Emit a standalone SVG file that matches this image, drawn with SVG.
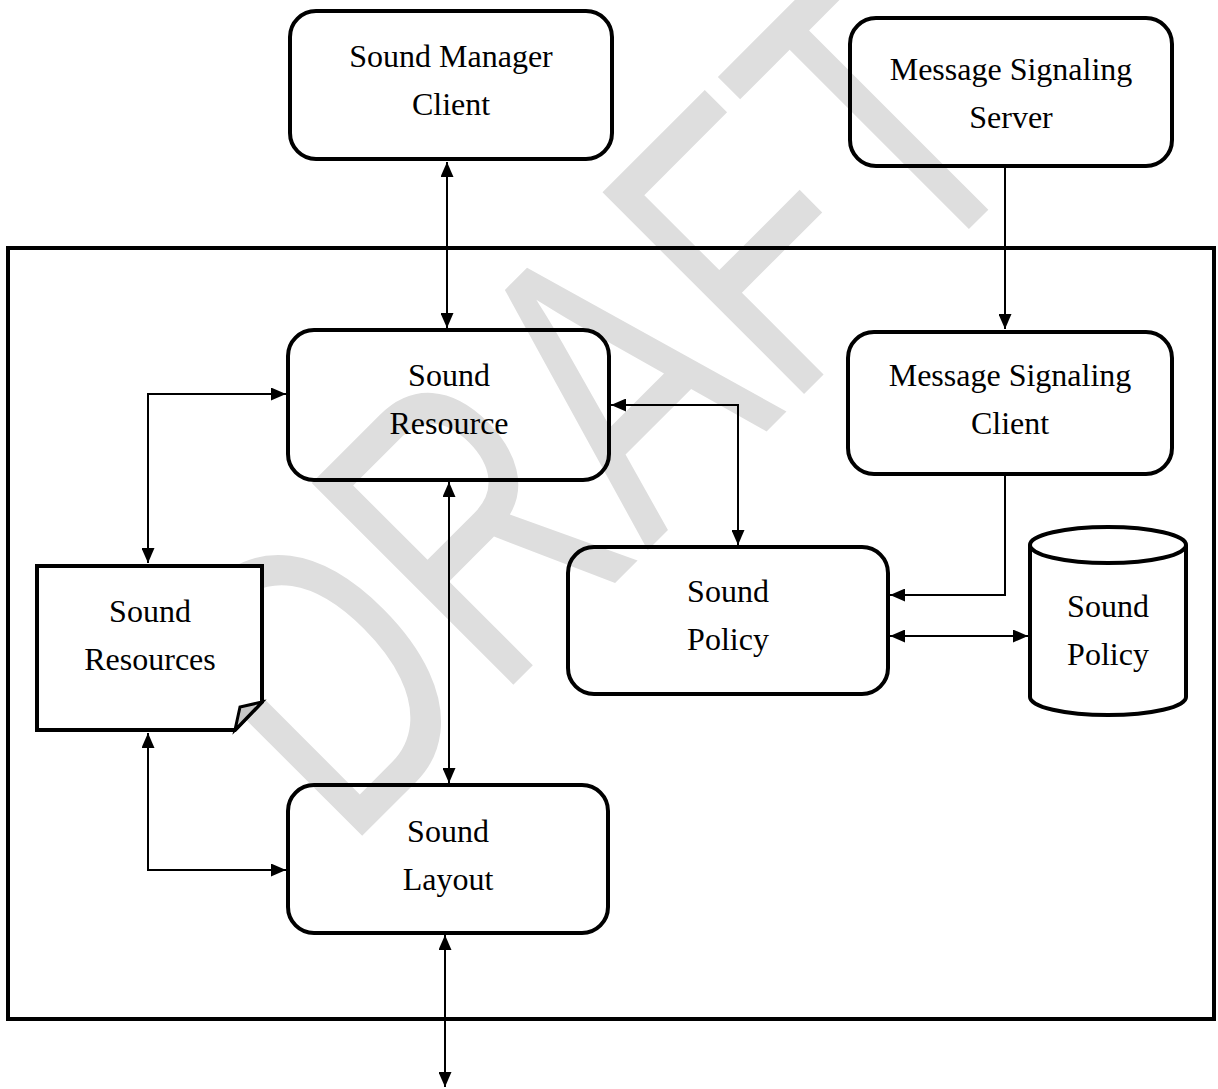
<svg xmlns="http://www.w3.org/2000/svg" width="1218" height="1089" viewBox="0 0 1218 1089">
<style>
.box{fill:none;stroke:#000;stroke-width:4}
.wbox{fill:#fff;stroke:#000;stroke-width:4}
.lbl{font-family:"Liberation Serif","Times New Roman",serif;font-size:32px;fill:#000;text-anchor:middle}
.con{fill:none;stroke:#000;stroke-width:2}
.wm{font-family:"Liberation Sans",Arial,sans-serif;font-size:296px;fill:#dedede}
</style>
<defs>
<marker id="ah" markerUnits="userSpaceOnUse" markerWidth="15" markerHeight="13" refX="15" refY="6.5" orient="auto-start-reverse">
<path d="M0,0 L15,6.5 L0,13 Z" fill="#000"/>
</marker>
</defs>
<rect x="0" y="0" width="1218" height="1089" fill="#fff"/>
<text class="wm" x="0" y="0" transform="translate(345,853) rotate(-45) scale(1,1.4)">DRAFT</text>
<rect id="system-frame" x="8" y="248" width="1206" height="771" fill="none" stroke="#000" stroke-width="4"/>
<g id="connectors">
<line class="con" x1="447" y1="162" x2="447" y2="328" marker-start="url(#ah)" marker-end="url(#ah)"/>
<line class="con" x1="1005" y1="167" x2="1005" y2="329" marker-end="url(#ah)"/>
<path class="con" d="M286,394 H148 V563" marker-start="url(#ah)" marker-end="url(#ah)"/>
<path class="con" d="M611,405 H738 V545" marker-start="url(#ah)" marker-end="url(#ah)"/>
<line class="con" x1="449" y1="482" x2="449" y2="783" marker-start="url(#ah)" marker-end="url(#ah)"/>
<path class="con" d="M1005,476 V595 H890" marker-end="url(#ah)"/>
<line class="con" x1="890" y1="636" x2="1028" y2="636" marker-start="url(#ah)" marker-end="url(#ah)"/>
<path class="con" d="M148,733 V870 H286" marker-start="url(#ah)" marker-end="url(#ah)"/>
<line class="con" x1="445" y1="935" x2="445" y2="1087" marker-start="url(#ah)" marker-end="url(#ah)"/>
</g>
<g id="sound-manager-client">
<rect class="box" x="290" y="11" width="322" height="148" rx="26"/>
<text class="lbl" x="451" y="67">Sound Manager</text>
<text class="lbl" x="451" y="115">Client</text>
</g>
<g id="message-signaling-server">
<rect class="box" x="850" y="18" width="322" height="148" rx="26"/>
<text class="lbl" x="1011" y="80">Message Signaling</text>
<text class="lbl" x="1011" y="128">Server</text>
</g>
<g id="sound-resource">
<rect class="box" x="288" y="330" width="321" height="150" rx="26"/>
<text class="lbl" x="449" y="386">Sound</text>
<text class="lbl" x="449" y="434">Resource</text>
</g>
<g id="message-signaling-client">
<rect class="box" x="848" y="332" width="324" height="142" rx="26"/>
<text class="lbl" x="1010" y="386">Message Signaling</text>
<text class="lbl" x="1010" y="434">Client</text>
</g>
<g id="sound-policy">
<rect class="box" x="568" y="547" width="320" height="147" rx="26"/>
<text class="lbl" x="728" y="602">Sound</text>
<text class="lbl" x="728" y="650">Policy</text>
</g>
<g id="sound-policy-db">
<path class="wbox" d="M1030,545 V697 A78,18 0 0 0 1186,697 V545 A78,18 0 0 0 1030,545 Z"/>
<path class="box" d="M1030,545 A78,18 0 0 0 1186,545"/>
<text class="lbl" x="1108" y="617">Sound</text>
<text class="lbl" x="1108" y="665">Policy</text>
</g>
<g id="sound-resources">
<path class="wbox" d="M37,566 H262 V702 L235,730 H37 Z" stroke-linejoin="miter"/>
<path d="M262,702 L240,707 L235,730 Z" fill="#c8c8c8" stroke="#000" stroke-width="3" stroke-linejoin="miter"/>
<text class="lbl" x="150" y="622">Sound</text>
<text class="lbl" x="150" y="670">Resources</text>
</g>
<g id="sound-layout">
<rect class="box" x="288" y="785" width="320" height="148" rx="26"/>
<text class="lbl" x="448" y="842">Sound</text>
<text class="lbl" x="448" y="890">Layout</text>
</g>
</svg>
